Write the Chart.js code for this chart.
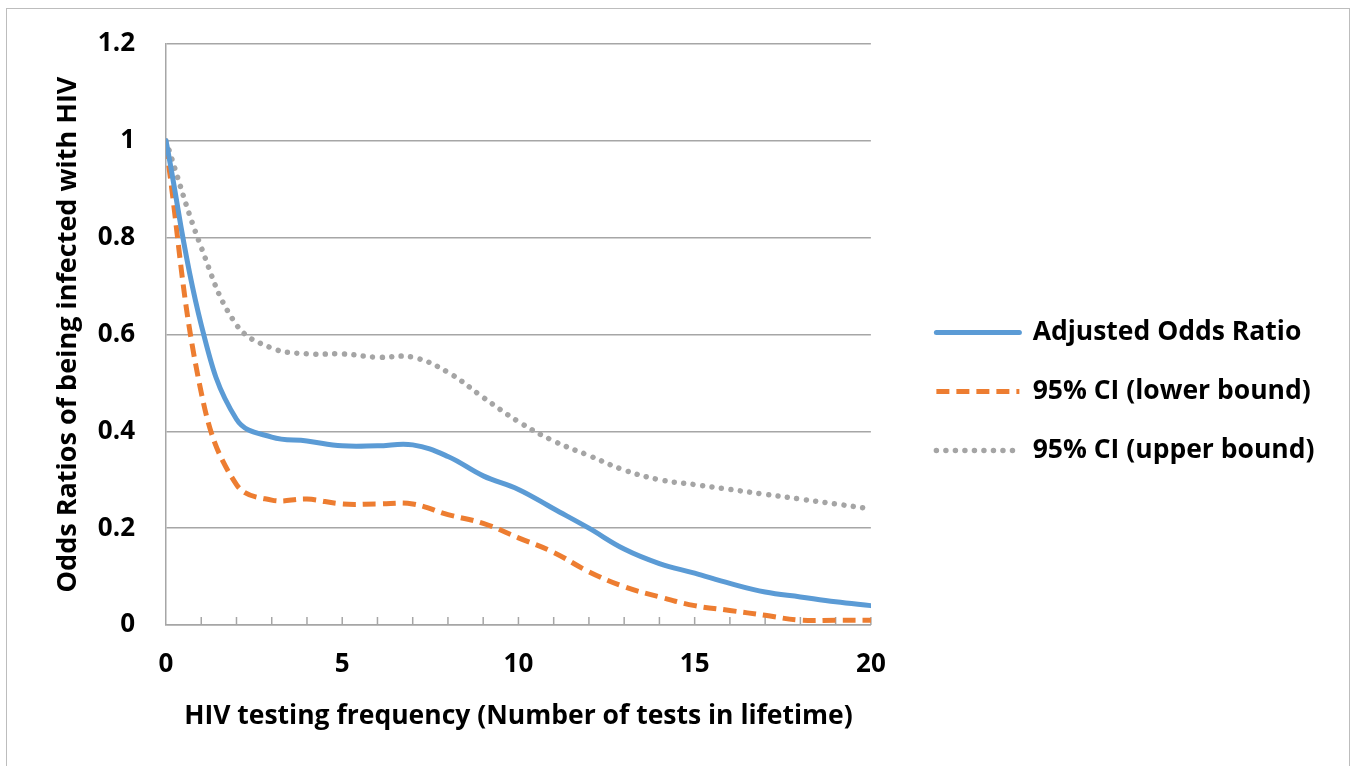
<!DOCTYPE html>
<html><head><meta charset="utf-8">
<script src="https://cdn.jsdelivr.net/npm/chart.js@4"></script>
<style>
html,body{margin:0;padding:0;background:#fff;overflow:hidden}
#frame{position:absolute;left:6px;top:8px;width:1344px;height:800px;border:1.5px solid #bdbdbd;box-sizing:border-box}
canvas{position:absolute;left:0;top:0}
</style></head><body>
<div id="frame"></div>
<canvas id="c" width="1352" height="766"></canvas>
<script>
const xValues = [0,1,2,3,4,5,6,7,8,9,10,11,12,13,14,15,16,17,18,19,20];
const adjustedOR = [1.0,0.62,0.425,0.388,0.38,0.37,0.37,0.372,0.348,0.308,0.28,0.24,0.2,0.157,0.127,0.107,0.086,0.068,0.058,0.048,0.04];
const ciLower = [0.99,0.48,0.29,0.258,0.26,0.25,0.25,0.25,0.228,0.21,0.18,0.15,0.11,0.079,0.058,0.04,0.03,0.02,0.01,0.01,0.01];
const ciUpper = [1.0,0.78,0.62,0.572,0.56,0.56,0.553,0.553,0.522,0.47,0.42,0.38,0.35,0.32,0.30,0.29,0.28,0.27,0.26,0.25,0.24];
const seriesNames = ['Adjusted Odds Ratio','95% CI (lower bound)','95% CI (upper bound)'];
const xTickLabels = ['0','5','10','15','20'];
const yTickLabels = ['0','0.2','0.4','0.6','0.8','1','1.2'];
const xTitle = 'HIV testing frequency (Number of tests in lifetime)';
const yTitle = 'Odds Ratios of being infected with HIV';

const toPts = arr => xValues.map((x,i)=>({x:x, y:arr[i]}));
const FONT = 'Open Sans';
const GRID = '#a6a6a6';

const innerTicks = {
  id:'innerTicks',
  beforeDatasetsDraw(chart){
    const s = chart.scales.x, ctx = chart.ctx, b = chart.chartArea.bottom;
    ctx.save(); ctx.strokeStyle = GRID; ctx.lineWidth = 1.5;
    s.ticks.forEach(t=>{
      if (t.value === s.min) return;
      const px = s.getPixelForValue(t.value);
      ctx.beginPath(); ctx.moveTo(px,b); ctx.lineTo(px,b-8); ctx.stroke();
    });
    ctx.restore();
  }
};

new Chart(document.getElementById('c'), {
  type:'line',
  data:{
    datasets:[
      {label:seriesNames[0], data:toPts(adjustedOR), yAxisID:'y', borderColor:'#5b9bd5', backgroundColor:'#5b9bd5', borderWidth:5, pointRadius:0, tension:0.4, fill:false, borderCapStyle:'round'},
      {label:seriesNames[1], data:toPts(ciLower), yAxisID:'y', borderColor:'#ed7d31', backgroundColor:'#ed7d31', borderWidth:5, pointRadius:0, tension:0.4, fill:false, borderDash:[13,7], borderCapStyle:'butt'},
      {label:seriesNames[2], data:toPts(ciUpper), yAxisID:'y', borderColor:'#a5a5a5', backgroundColor:'#a5a5a5', borderWidth:5.5, pointRadius:0, tension:0.4, fill:false, borderDash:[0.01,9.5], borderCapStyle:'round'}
    ]
  },
  options:{
    responsive:false,
    animation:false,
    layout:{padding:{left:40, top:44, right:27.5, bottom:34}},
    plugins:{
      tooltip:{enabled:false},
      legend:{
        position:'right', align:'center', maxWidth:520,
        title:{display:true, text:'', padding:{top:6, bottom:0}, font:{size:1}},
        labels:{usePointStyle:true, pointStyle:'line', pointStyleWidth:83, padding:32.5, color:'#000',
          font:{family:FONT, size:26.5, weight:'bold'},
          generateLabels(chart){
            const items = Chart.defaults.plugins.legend.labels.generateLabels(chart);
            items.forEach(it=>{
              const ds = chart.data.datasets[it.datasetIndex];
              it.lineDash = ds.borderDash || [];
              it.lineCap = ds.borderCapStyle;
              it.lineWidth = ds.borderWidth;
              it.strokeStyle = ds.borderColor;
              it.fillStyle = ds.borderColor;
              it.pointStyle = 'line';
            });
            return items;
          }}
      }
    },
    scales:{
      x:{
        type:'linear', min:0, max:20,
        grid:{drawOnChartArea:false, drawTicks:false},
        border:{color:GRID, width:1.5},
        ticks:{stepSize:1, autoSkip:false, maxRotation:0, padding:24.4, color:'#000',
          font:{family:FONT, size:26, weight:'bold'},
          callback:(v)=> (v % 5 === 0 ? xTickLabels[v/5] : '')},
        title:{display:true, text:xTitle, color:'#000', padding:{top:0, bottom:0}, font:{family:FONT, size:26.5, weight:'bold'}},
        afterFit(scale){ scale.height = 107; }
      },
      y:{
        position:'left', min:0, max:1.2,
        grid:{color:GRID, lineWidth:1.5, drawTicks:false},
        border:{color:GRID, width:1.5},
        ticks:{stepSize:0.2, padding:31, color:'#000', font:{family:FONT, size:26, weight:'bold'},
          callback:(v,i)=> yTickLabels[i]},
        title:{display:true, text:yTitle, color:'#000', padding:{top:12, bottom:0}, font:{family:FONT, size:27, weight:'bold'}},
        afterFit(scale){ scale.width = 126; scale.paddingTop = 16; scale.paddingBottom = 16; }
      },
      legendGap:{
        type:'linear', position:'right', min:0, max:1,
        grid:{display:false}, border:{display:false}, ticks:{display:false},
        afterFit(scale){ scale.width = 33; }
      }
    }
  },
  plugins:[innerTicks]
});
</script>
</body></html>
